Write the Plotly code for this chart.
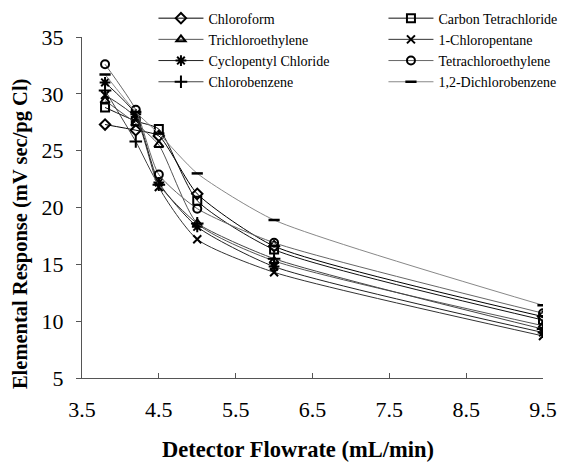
import plotly.graph_objects as go

# Detector flowrate (mL/min)
flowrate = [3.8, 4.2, 4.5, 5.0, 6.0, 9.5]

# Elemental response (mV sec/pg Cl) for each compound
chloroform = [27.3, 26.8, 26.3, 21.2, 16.6, 10.4]
carbon_tet = [28.8, 27.6, 26.9, 20.6, 16.3, 10.1]
trichloroethylene = [29.4, 27.4, 25.5, 18.6, 15.3, 9.6]
chloropentane = [29.9, 27.9, 21.8, 17.2, 14.3, 8.7]
cyclopentyl = [31.0, 28.2, 22.2, 18.3, 14.8, 9.0]
tetrachloroethylene = [32.6, 28.6, 22.9, 19.9, 16.9, 10.7]
chlorobenzene = [30.3, 25.8, 22.0, 18.6, 15.5, 9.3]
dichlorobenzene = [31.7, 28.4, 26.5, 23.0, 18.9, 11.4]

x_ticks = [3.5, 4.5, 5.5, 6.5, 7.5, 8.5, 9.5]
y_ticks = [5, 10, 15, 20, 25, 30, 35]

series = [
    ("Chloroform", chloroform, "diamond-open", 8, "#000000"),
    ("Carbon Tetrachloride", carbon_tet, "square-open", 8, "#111111"),
    ("Trichloroethylene", trichloroethylene, "triangle-up-open", 8, "#555555"),
    ("1-Chloropentane", chloropentane, "x-thin-open", 8, "#333333"),
    ("Cyclopentyl Chloride", cyclopentyl, "asterisk-open", 9, "#222222"),
    ("Tetrachloroethylene", tetrachloroethylene, "circle-open", 8, "#666666"),
    ("Chlorobenzene", chlorobenzene, "cross-thin-open", 9, "#444444"),
    ("1,2-Dichlorobenzene", dichlorobenzene, "line-ew-open", 8, "#888888"),
]

fig = go.Figure()
for name, vals, sym, size, lc in series:
    fig.add_trace(go.Scatter(
        x=flowrate, y=vals, name=name, mode="lines+markers",
        line=dict(color=lc, width=1, shape="spline", smoothing=0.6),
        marker=dict(symbol=sym, size=size, color="black",
                    line=dict(color="black", width=2.5 if sym == "line-ew-open" else 2)),
    ))

serif = "Liberation Serif, Times New Roman, serif"
fig.update_layout(
    width=567, height=467,
    margin=dict(l=82, r=24, t=37, b=89, autoexpand=False),
    paper_bgcolor="white", plot_bgcolor="white",
    font=dict(family=serif, color="black"),
    showlegend=True,
    legend=dict(
        orientation="h", x=0.155, y=1.101, xanchor="left", yanchor="top",
        entrywidth=170, entrywidthmode="pixels", itemwidth=45,
        font=dict(family=serif, size=14, color="black"),
        bgcolor="rgba(0,0,0,0)", tracegroupgap=0,
    ),
    xaxis=dict(
        range=[3.5, 9.5], tickvals=x_ticks, ticktext=[f"{v:.1f}" for v in x_ticks],
        showgrid=False, zeroline=False, showline=True, linecolor="#555555", linewidth=1,
        ticks="inside", ticklen=5, tickcolor="#555555",
        tickfont=dict(family=serif, size=22), ticklabelstandoff=12,
    ),
    yaxis=dict(
        range=[5, 35], tickvals=y_ticks,
        showgrid=False, zeroline=False, showline=True, linecolor="#555555", linewidth=1,
        ticks="outside", ticklen=5, tickcolor="#555555",
        tickfont=dict(family=serif, size=22), ticklabelstandoff=8,
    ),
    annotations=[
        dict(text="<b>Detector Flowrate (mL/min)</b>", xref="paper", yref="paper",
             x=0.4686, y=-0.211, xanchor="center", yanchor="middle", showarrow=False,
             font=dict(family=serif, size=22.5, color="black")),
        dict(text="<b>Elemental Response (mV sec/pg Cl)</b>", xref="paper", yref="paper",
             x=-0.1345, y=0.425, xanchor="center", yanchor="middle", showarrow=False,
             textangle=-90, font=dict(family=serif, size=20.5, color="black")),
    ],
)

fig.write_html("out.html")
